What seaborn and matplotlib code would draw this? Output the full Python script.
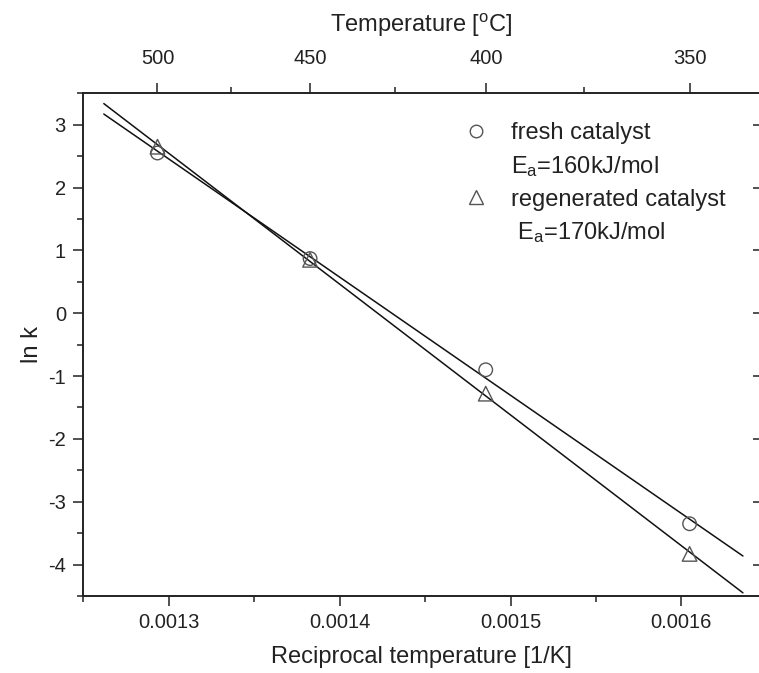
import numpy as np
import pandas as pd
import matplotlib
matplotlib.use('Agg')
import matplotlib.pyplot as plt
from matplotlib.ticker import MultipleLocator, FixedLocator, FormatStrFormatter
from matplotlib.lines import Line2D
import seaborn as sns

# reciprocal temperature [1/K] of the runs at 500, 450, 400 and 350 C
inv_temp = [0.0012934, 0.0013827, 0.0014855, 0.0016048]
lnk_fresh = [2.55, 0.87, -0.90, -3.35]
lnk_regen = [2.65, 0.85, -1.28, -3.83]
fit_range = [0.001262, 0.001636]   # x span of the drawn Arrhenius fits

labels = ['fresh catalyst', 'E$_a$=160kJ/mol', 'regenerated catalyst', ' E$_a$=170kJ/mol']
top_major = [500, 450, 400, 350]
top_minor = [475, 425, 375]

sns.set_style('ticks')
plt.rcParams['font.family'] = ['Liberation Sans', 'DejaVu Sans']
plt.rcParams['mathtext.default'] = 'regular'
plt.rcParams['axes.unicode_minus'] = False
plt.rcParams['text.color'] = '#222222'
plt.rcParams['axes.labelcolor'] = '#222222'
plt.rcParams['xtick.color'] = '#222222'
plt.rcParams['ytick.color'] = '#222222'

fig = plt.figure(figsize=(7.59, 6.73), dpi=100)
ax = fig.add_axes([83.3 / 759, 77 / 673, 676.7 / 759, 502.7 / 673])

df = pd.DataFrame({'x': inv_temp, 'fresh': lnk_fresh, 'regen': lnk_regen})
mk = '#555555'
sns.scatterplot(data=df, x='x', y='fresh', marker='o', s=95, fc='none', ec=mk, linewidth=1.0, ax=ax, zorder=3)
sns.scatterplot(data=df, x='x', y='regen', marker='^', s=110, fc='none', ec=mk, linewidth=1.0, ax=ax, zorder=3)

# linear fits ln k vs 1/T
xs = np.array(fit_range)
for col in ['fresh', 'regen']:
    coef = np.polyfit(df['x'], df[col], 1)
    sns.lineplot(x=xs, y=np.polyval(coef, xs), color='#111111', lw=1.1, ax=ax)

ax.set_xlim(0.00125, 0.001646)
ax.set_ylim(-4.5, 3.5)
ax.xaxis.set_major_locator(MultipleLocator(0.0001))
ax.xaxis.set_minor_locator(MultipleLocator(0.00005))
ax.xaxis.set_major_formatter(FormatStrFormatter('%.4f'))
ax.yaxis.set_major_locator(MultipleLocator(1))
ax.yaxis.set_minor_locator(MultipleLocator(0.5))
ax.tick_params(which='major', direction='out', length=7.5, width=1.1, labelsize=14.5, pad=5)
ax.tick_params(which='minor', direction='out', length=4, width=1.1)
ax.tick_params(axis='y', right=False)
for s in ['left', 'top', 'bottom']:
    ax.spines[s].set_linewidth(1.4)
    ax.spines[s].set_color('#222222')
ax.spines['right'].set_visible(False)

ax.set_xlabel('Reciprocal temperature [1/K]', fontsize=17, labelpad=10)
ax.set_ylabel('ln k', fontsize=17, labelpad=4)

# top axis in Celsius
secx = ax.secondary_xaxis('top', functions=(lambda x: 1 / x - 273.15, lambda t: 1 / (t + 273.15)))
secx.set_xticks(top_major)
secx.xaxis.set_minor_locator(FixedLocator(top_minor))
secx.tick_params(which='major', direction='out', length=7.5, width=1.1, labelsize=14.5, pad=11)
secx.tick_params(which='minor', direction='out', length=4, width=1.1)
secx.spines['top'].set_visible(False)
secx.set_xlabel('Temperature [$^o$C]', fontsize=17, labelpad=12)

# right side: inward ticks only
secy = ax.secondary_yaxis('right')
secy.set_yticks(range(-4, 4))
secy.tick_params(direction='in', length=5, width=1.1, labelright=False)
secy.spines['right'].set_visible(False)

h = [Line2D([], [], marker='o', ls='none', mfc='none', mec=mk, ms=9),
     Line2D([], [], ls='none'),
     Line2D([], [], marker='^', ls='none', mfc='none', mec=mk, ms=9.5),
     Line2D([], [], ls='none')]
ax.legend(h, labels, loc='upper left', bbox_to_anchor=(452 / 759, 1 - 110 / 673),
          bbox_transform=fig.transFigure, frameon=False, fontsize=17,
          handlelength=1.0, handletextpad=1.0, borderpad=0, labelspacing=0.42)

fig.savefig('out.png', dpi=100)
